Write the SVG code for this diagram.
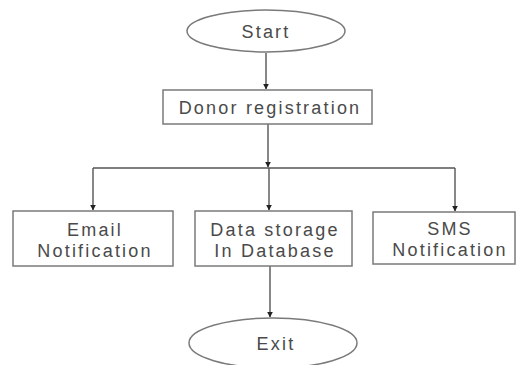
<svg xmlns="http://www.w3.org/2000/svg" width="516" height="365" viewBox="0 0 516 365">
<style>
.shape{fill:#fff;stroke:#7a7a7a;stroke-width:1.5}
.lbl{font-family:"Liberation Sans",Arial,sans-serif;font-size:18px;fill:#4a4a4a;letter-spacing:2.2px;text-anchor:middle}
.con{fill:none;stroke:#555;stroke-width:1.4}
</style>
<defs>
<marker id="ah" viewBox="0 0 10 10" refX="9" refY="5" markerWidth="6" markerHeight="6" orient="auto" markerUnits="userSpaceOnUse">
<path d="M0,0 L10,5 L0,10 z" fill="#222"/>
</marker>
</defs>
<rect width="516" height="365" fill="#fff"/>
<g id="connectors">
<path class="con" d="M266,53 V89" marker-end="url(#ah)"/>
<path class="con" d="M268,124 V167" marker-end="url(#ah)"/>
<path class="con" d="M93,168 H455"/>
<path class="con" d="M93,168 V210" marker-end="url(#ah)"/>
<path class="con" d="M269,168 V210" marker-end="url(#ah)"/>
<path class="con" d="M455,168 V211" marker-end="url(#ah)"/>
<path class="con" d="M270,266 V317" marker-end="url(#ah)"/>
</g>
<g id="start">
<ellipse class="shape" cx="266" cy="31" rx="79" ry="21"/>
<text class="lbl" x="266" y="38">Start</text>
</g>
<g id="donor">
<rect class="shape" x="163" y="90" width="209" height="34"/>
<text class="lbl" x="270" y="114">Donor registration</text>
</g>
<g id="email">
<rect class="shape" x="13" y="211" width="160" height="55"/>
<text class="lbl" x="95" y="236">Email</text>
<text class="lbl" x="95" y="257">Notification</text>
</g>
<g id="data">
<rect class="shape" x="195" y="211" width="157" height="55"/>
<text class="lbl" x="275" y="236">Data storage</text>
<text class="lbl" x="275" y="257">In Database</text>
</g>
<g id="sms">
<rect class="shape" x="373" y="212" width="142" height="52"/>
<text class="lbl" x="450" y="235">SMS</text>
<text class="lbl" x="450" y="256">Notification</text>
</g>
<g id="exit">
<ellipse class="shape" cx="273" cy="343" rx="84" ry="25"/>
<text class="lbl" x="276" y="350">Exit</text>
</g>
</svg>
